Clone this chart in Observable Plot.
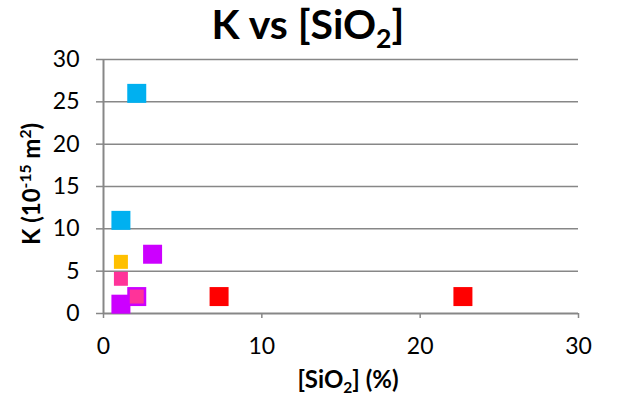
<!DOCTYPE html>
<html><head><meta charset="utf-8">
<script src="https://cdn.jsdelivr.net/npm/d3@7"></script>
<script src="https://cdn.jsdelivr.net/npm/@observablehq/plot@0.6"></script>
<style>
body{margin:0;background:#fff;}
#wrap{position:relative;width:617px;height:405px;font-family:Lato,"Open Sans",sans-serif;color:#000;}
#wrap svg{position:absolute;left:0;top:0;}
.t{position:absolute;font-weight:bold;white-space:nowrap;line-height:1;z-index:2;}
.t sub{font-size:0.65em;vertical-align:-0.35em;line-height:0;}
.t sup{font-size:0.65em;vertical-align:0.55em;line-height:0;}
#title{left:308px;top:3px;font-size:41px;transform:translateX(-50%);}
#xlab{left:348px;top:367px;font-size:24px;transform:translateX(-50%);}
#ylab{left:31px;top:184px;font-size:24px;transform:translate(-50%,-50%) rotate(-90deg);}
</style></head><body>
<div id="wrap">
<div class="t" id="title">K vs [SiO<sub>2</sub>]</div>
<div class="t" id="xlab">[SiO<sub>2</sub>] (%)</div>
<div class="t" id="ylab">K (10<sup>-15</sup> m<sup>2</sup>)</div>
</div>
<script>
const seriesNames = ["S1", "S2", "S3", "S4", "S5"];
const seriesColors = ["#00B0F0", "#FF0000", "#CC00FF", "#FFC000", "#FF3399"];
const markerSizes = [19, 19, 19, 14, 14];
const sio2Values = [[2.1, 1.1], [7.3, 22.7], [1.1, 2.1, 3.1], [1.1], [1.1, 2.1]];
const kValues = [[26, 11], [2, 2], [1.1, 2, 7], [6.1], [4.1, 2]];
const xTicks = [0, 10, 20, 30];
const yTicks = [0, 5, 10, 15, 20, 25, 30];

const data = [];
seriesNames.forEach((s, i) => {
  sio2Values[i].forEach((x, j) => {
    data.push({series: s, x, y: kValues[i][j], size: markerSizes[i] / Math.sqrt(Math.PI)});
  });
});

const axisColor = "#878787";
const chart = Plot.plot({
  width: 617, height: 405,
  marginLeft: 103, marginRight: 39, marginTop: 59, marginBottom: 92,
  x: {domain: [0, 30]},
  y: {domain: [0, 30]},
  r: {type: "identity"},
  color: {domain: seriesNames, range: seriesColors},
  style: {fontFamily: "Lato, 'Open Sans', sans-serif", fontSize: "23px", color: "#000", background: "transparent"},
  marks: [
    Plot.gridY(yTicks.filter(d => d > 0), {stroke: axisColor, strokeOpacity: 1, strokeWidth: 1.5}),
    Plot.axisY(yTicks, {tickSize: 7, tickPadding: 17, stroke: axisColor, strokeWidth: 1.5, label: null, fontSize: 23}),
    Plot.axisX(xTicks, {tickSize: 5, tickPadding: 19, stroke: axisColor, strokeWidth: 1.5, label: null, fontSize: 23}),
    Plot.ruleX([0], {stroke: axisColor, strokeWidth: 2}),
    Plot.ruleY([0], {stroke: axisColor, strokeWidth: 2}),
    Plot.dot(data, {x: "x", y: "y", fill: "series", r: "size", symbol: "square", stroke: null})
  ]
});
document.getElementById("wrap").appendChild(chart);
</script>
</body></html>
